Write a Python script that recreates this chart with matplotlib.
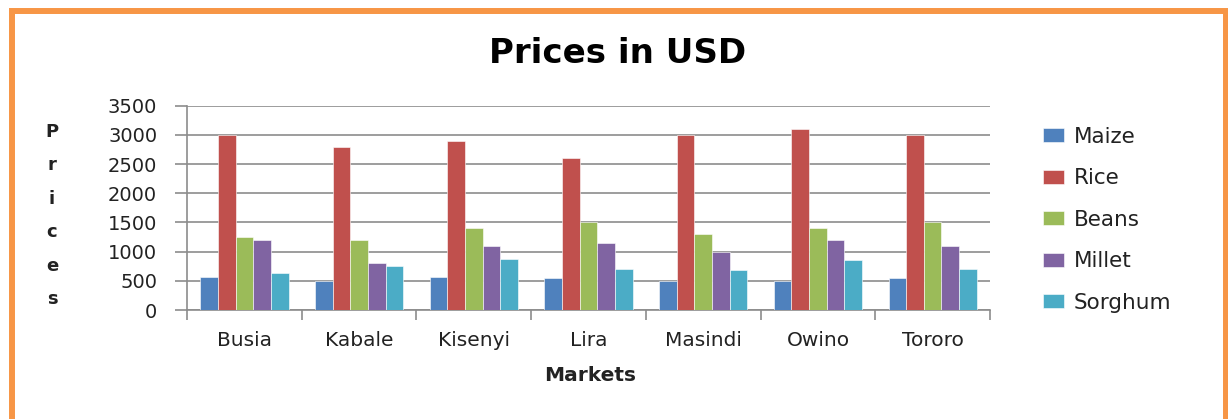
import matplotlib
matplotlib.use("Agg")
import matplotlib.pyplot as plt
import numpy as np
from matplotlib.patches import Rectangle

markets = ["Busia", "Kabale", "Kisenyi", "Lira", "Masindi", "Owino", "Tororo"]
maize = [570, 500, 570, 550, 500, 500, 550]
rice = [3000, 2800, 2900, 2600, 3000, 3100, 3000]
beans = [1250, 1200, 1400, 1500, 1300, 1400, 1500]
millet = [1200, 800, 1100, 1150, 1000, 1200, 1100]
sorghum = [630, 750, 875, 700, 690, 860, 700]
series_names = ["Maize", "Rice", "Beans", "Millet", "Sorghum"]
yticks = [0, 500, 1000, 1500, 2000, 2500, 3000, 3500]
ylabel_text = "Prices"

colors = ["#4F81BD", "#C0504D", "#9BBB59", "#8064A2", "#4BACC6"]
series = [maize, rice, beans, millet, sorghum]

plt.rcParams['font.family'] = ['DejaVu Sans']

fig = plt.figure(figsize=(12.28, 4.19), dpi=100)
ax = fig.add_axes([0.1523, 0.2601, 0.6539, 0.4876])

x = np.arange(len(markets))
bw = 1 / 6.5
for i, (vals, c, name) in enumerate(zip(series, colors, series_names)):
    ax.bar(x + (i - 2) * bw, vals, width=bw, color=c, label=name,
           edgecolor="#ffffff", linewidth=0.4, zorder=3)

ax.set_xlim(-0.5, len(markets) - 0.5)
ax.set_ylim(0, 3500)
ax.set_yticks(yticks)
ax.set_yticklabels([str(v) for v in yticks], fontsize=14, color="#222222")
ax.yaxis.grid(True, color="#8c8c8c", linewidth=1.2, zorder=0)
ax.set_axisbelow(True)

ax.set_xticks(x)
ax.set_xticklabels(markets, fontsize=14.5, color="#222222")
ax.tick_params(axis="x", which="major", length=0, pad=15)
ax.set_xticks(np.arange(-0.5, len(markets), 1), minor=True)
ax.tick_params(axis="x", which="minor", length=7, width=1.2, color="#8c8c8c")
ax.tick_params(axis="y", length=8.5, width=1.2, color="#8c8c8c", pad=13)

for s in ["top", "right"]:
    ax.spines[s].set_visible(False)
ax.spines["left"].set_color("#8c8c8c")
ax.spines["bottom"].set_color("#8c8c8c")
ax.spines["left"].set_linewidth(1.2)
ax.spines["bottom"].set_linewidth(1.2)

fig.text(0.5029, 0.873, "Prices in USD", ha="center", va="center",
         fontsize=24.5, fontweight="bold", color="#000000")
fig.text(0.4805, 0.103, "Markets", ha="center", va="center",
         fontsize=14.5, fontweight="bold", color="#222222")
# vertical, letter-by-letter axis title
y0_px, step_px = 132, 33.4
for k, ch in enumerate(ylabel_text):
    fig.text(52 / 1228, 1 - (y0_px + k * step_px) / 419, ch, ha="center",
             va="center", fontsize=13, fontweight="bold", color="#222222")

leg = ax.legend(loc="upper left", bbox_to_anchor=(1.055, 0.94), frameon=False,
                fontsize=15.5, handlelength=1.0, handleheight=0.62,
                handletextpad=0.45, labelspacing=1.0, borderaxespad=0)
for t in leg.get_texts():
    t.set_color("#222222")

border = Rectangle((11.5 / 1228, -0.05), (1226 - 11.5) / 1228, 1.05 - 11 / 419,
                   transform=fig.transFigure, fill=False, edgecolor="#F79646",
                   linewidth=4.3, clip_on=False)
fig.patches.append(border)

fig.savefig("out.png", dpi=100, facecolor="white")
